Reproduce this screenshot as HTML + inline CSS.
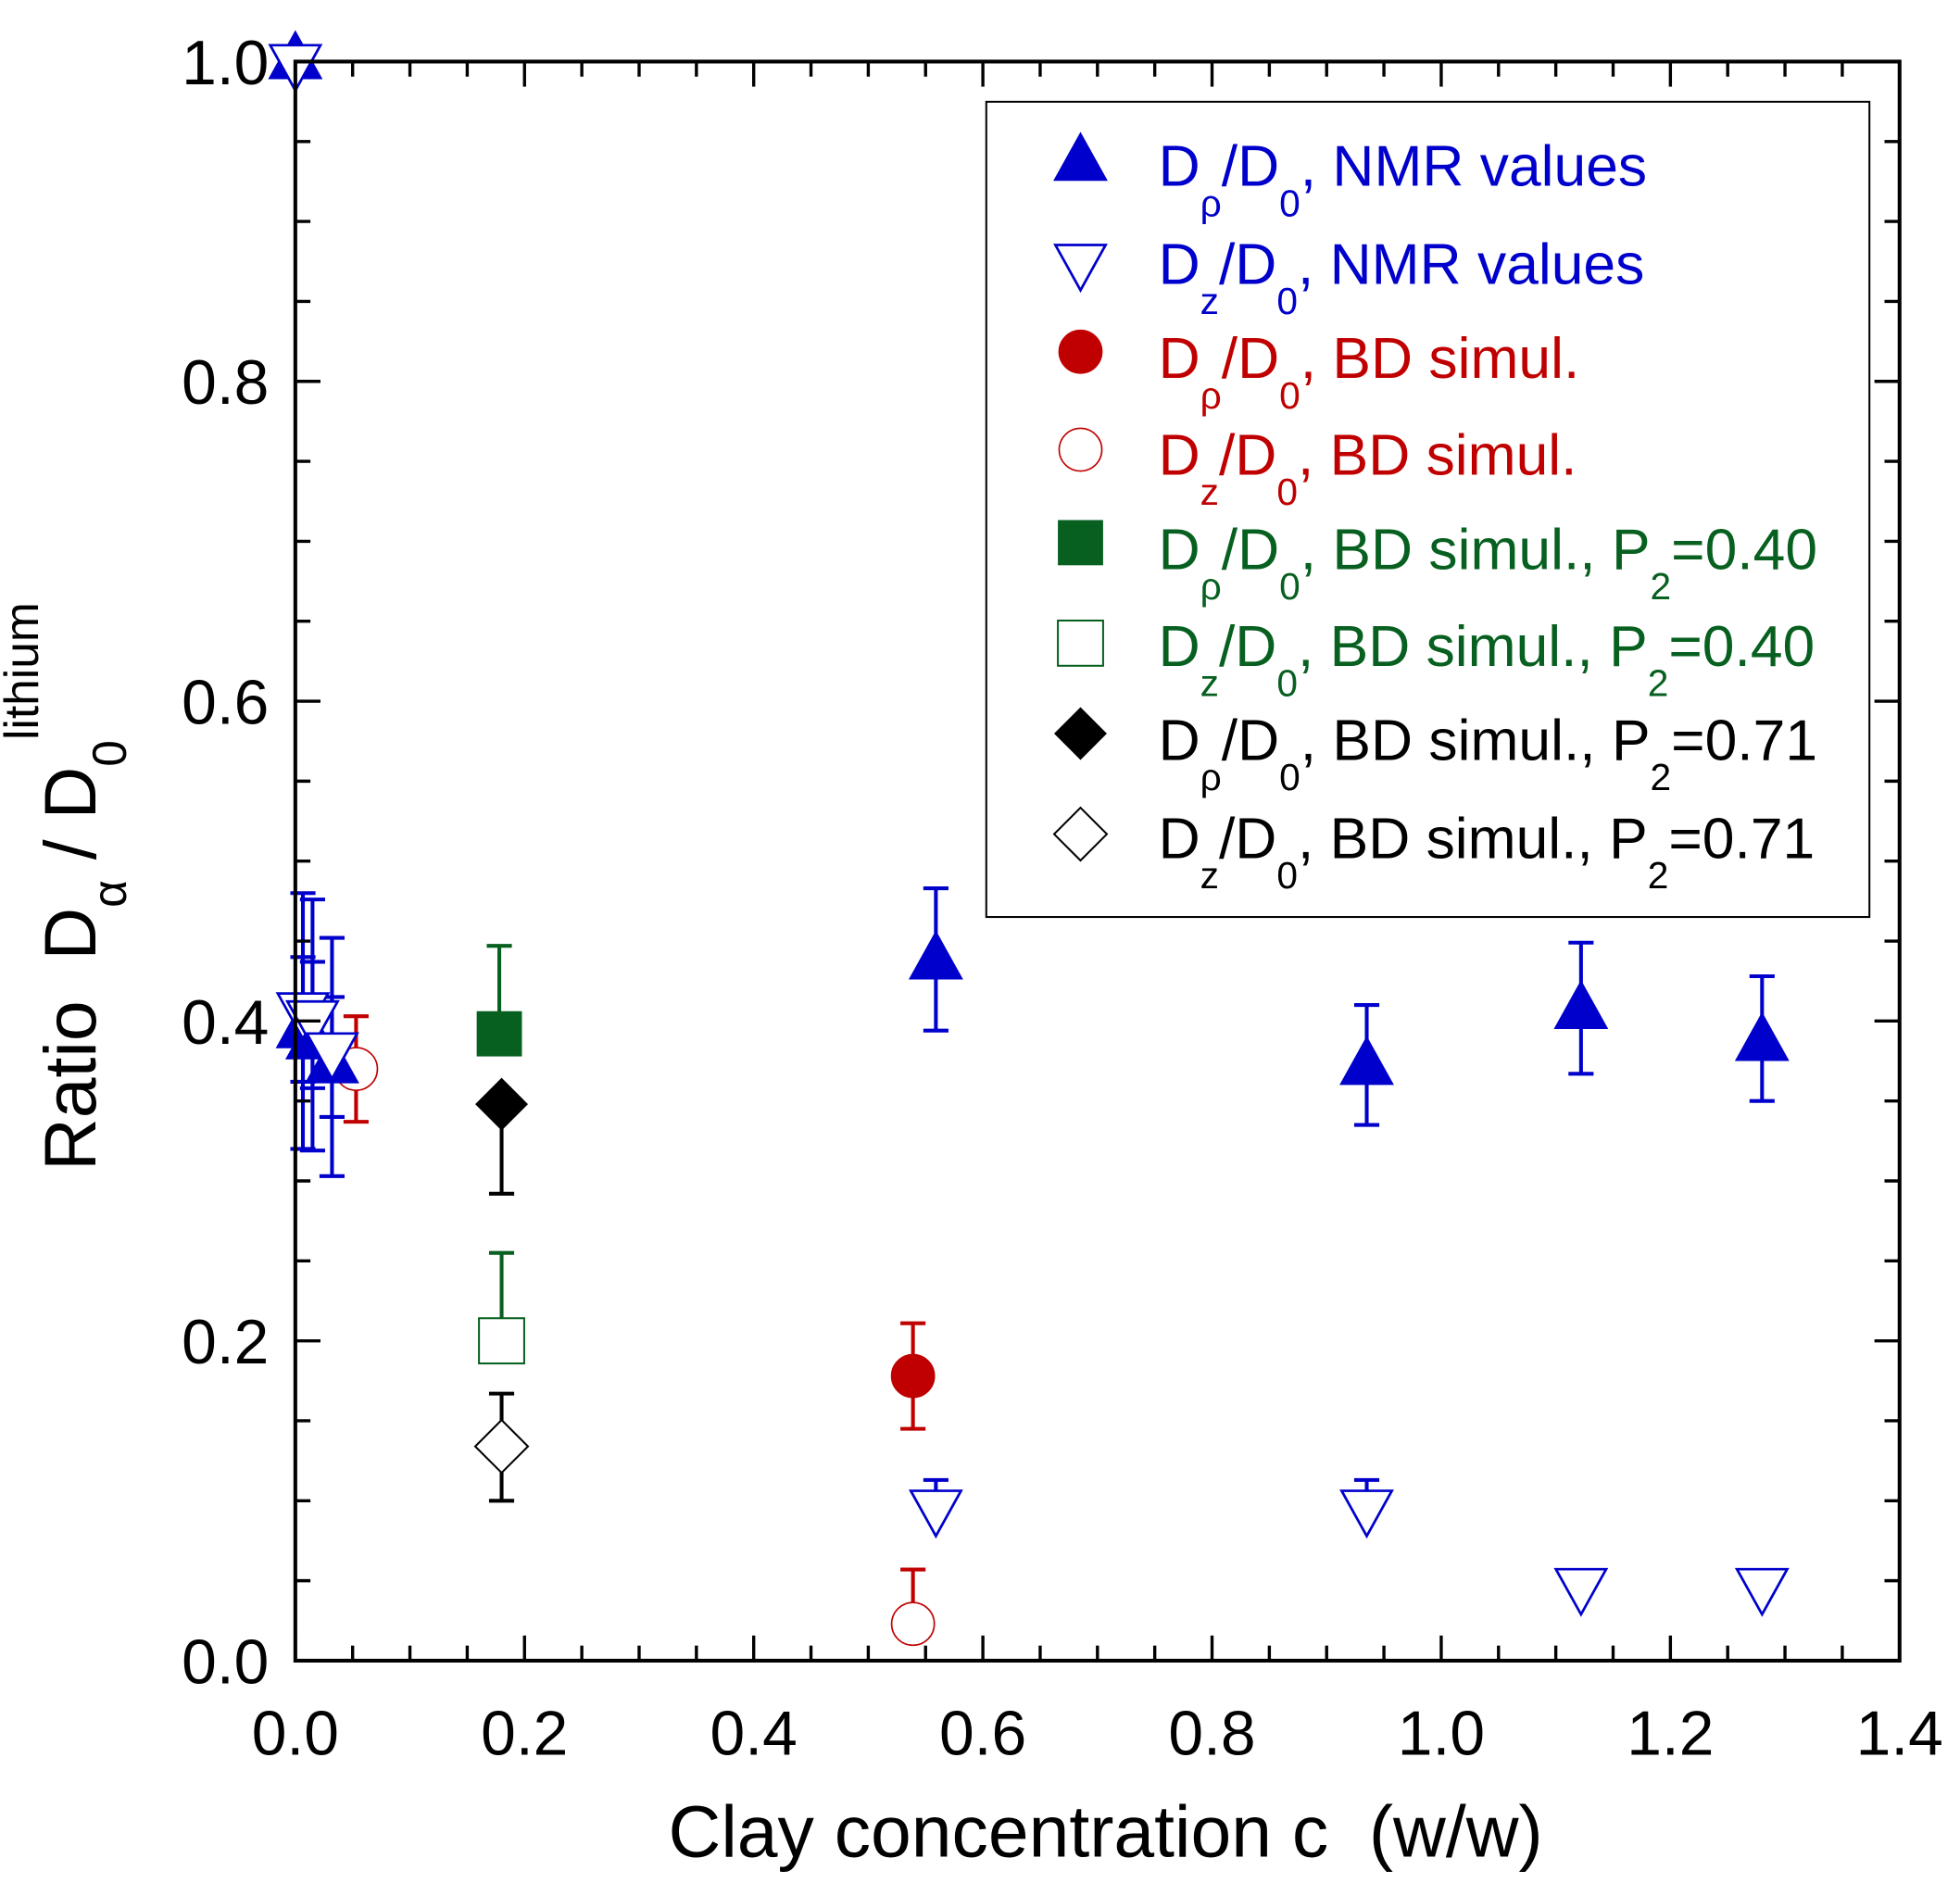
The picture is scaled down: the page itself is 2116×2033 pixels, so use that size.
<!DOCTYPE html>
<html><head><meta charset="utf-8">
<style>html,body{margin:0;padding:0;background:#fff}svg{display:block}text{font-family:"Liberation Sans",Arial,sans-serif;white-space:pre}</style>
</head><body>
<svg id="chart" width="2116" height="2033" viewBox="0 0 1560 1499" xmlns="http://www.w3.org/2000/svg">
<rect x="0" y="0" width="1560" height="1499" fill="#fff"/>
<g id="marks"></g>
<g id="axes"></g>
<g>
<rect x="785" y="81" width="703" height="649" fill="#fff" stroke="#000" stroke-width="1.5"/>
<g id="legmarks"></g>
<g font-size="46">
<text x="922" y="148" fill="#0000CC">D<tspan font-size="30" dy="24">ρ</tspan><tspan dy="-24">/D</tspan><tspan font-size="30" dy="24">0</tspan><tspan dy="-24">, NMR values</tspan></text>
<text x="922" y="226" fill="#0000CC">D<tspan font-size="30" dy="24">z</tspan><tspan dy="-24">/D</tspan><tspan font-size="30" dy="24">0</tspan><tspan dy="-24">, NMR values</tspan></text>
<text x="922" y="301" fill="#C00000">D<tspan font-size="30" dy="24">ρ</tspan><tspan dy="-24">/D</tspan><tspan font-size="30" dy="24">0</tspan><tspan dy="-24">, BD simul.</tspan></text>
<text x="922" y="378" fill="#C00000">D<tspan font-size="30" dy="24">z</tspan><tspan dy="-24">/D</tspan><tspan font-size="30" dy="24">0</tspan><tspan dy="-24">, BD simul.</tspan></text>
<text x="922" y="453" fill="#076020">D<tspan font-size="30" dy="24">ρ</tspan><tspan dy="-24">/D</tspan><tspan font-size="30" dy="24">0</tspan><tspan dy="-24">, BD simul., P</tspan><tspan font-size="30" dy="24">2</tspan><tspan dy="-24">=0.40</tspan></text>
<text x="922" y="530" fill="#076020">D<tspan font-size="30" dy="24">z</tspan><tspan dy="-24">/D</tspan><tspan font-size="30" dy="24">0</tspan><tspan dy="-24">, BD simul., P</tspan><tspan font-size="30" dy="24">2</tspan><tspan dy="-24">=0.40</tspan></text>
<text x="922" y="605" fill="#000">D<tspan font-size="30" dy="24">ρ</tspan><tspan dy="-24">/D</tspan><tspan font-size="30" dy="24">0</tspan><tspan dy="-24">, BD simul., P</tspan><tspan font-size="30" dy="24">2</tspan><tspan dy="-24">=0.71</tspan></text>
<text x="922" y="683" fill="#000">D<tspan font-size="30" dy="24">z</tspan><tspan dy="-24">/D</tspan><tspan font-size="30" dy="24">0</tspan><tspan dy="-24">, BD simul., P</tspan><tspan font-size="30" dy="24">2</tspan><tspan dy="-24">=0.71</tspan></text>
</g>
</g>
<text x="880" y="1478" font-size="58" text-anchor="middle">Clay concentration c  (w/w)</text>
<text transform="translate(76,932) rotate(-90)" font-size="58">Ratio  D<tspan font-size="38" dy="24">α</tspan><tspan dy="-24"> / D</tspan><tspan font-size="38" dy="24">0</tspan><tspan font-size="38" dy="-70">lithium</tspan></text>
</svg>
<script>
// data
const triUpX = [0.0, 0.0066, 0.015, 0.032, 0.559, 0.935, 1.122, 1.28];
const triUpY = [1.0, 0.394, 0.387, 0.372, 0.437, 0.371, 0.406, 0.386];
const triUpHi = [null, 0.48, 0.476, 0.452, 0.483, 0.41, 0.449, 0.428];
const triUpLo = [null, 0.32, 0.319, 0.303, 0.394, 0.335, 0.367, 0.35];
const triDnX = [0.0, 0.0066, 0.015, 0.032, 0.559, 0.935, 1.122, 1.28];
const triDnY = [1.0, 0.407, 0.402, 0.382, 0.096, 0.096, 0.047, 0.047];
const triDnHi = [null, 0.44, 0.437, 0.415, 0.113, 0.113, null, null];
const triDnLo = [null, 0.362, 0.358, 0.34, null, null, null, null];
const cirFX = [0.539], cirFY = [0.178], cirFHi = [0.211], cirFLo = [0.145];
const cirOX = [0.053, 0.539], cirOY = [0.37, 0.023], cirOHi = [0.403, 0.057], cirOLo = [0.337, null];
const sqFX = [0.178], sqFY = [0.392], sqFHi = [0.447], sqFLo = [null];
const sqOX = [0.18], sqOY = [0.2], sqOHi = [0.255], sqOLo = [null];
const diaFX = [0.18], diaFY = [0.348], diaFHi = [null], diaFLo = [0.292];
const diaOX = [0.18], diaOY = [0.134], diaOHi = [0.167], diaOLo = [0.10];
const xTicks = [0, 0.2, 0.4, 0.6, 0.8, 1.0, 1.2, 1.4];
const xTickLabels = ["0.0","0.2","0.4","0.6","0.8","1.0","1.2","1.4"];
const yTicks = [0, 0.2, 0.4, 0.6, 0.8, 1.0];
const yTickLabels = ["0.0","0.2","0.4","0.6","0.8","1.0"];

const L=235,R=1512,T=49,B=1322;
const sx=v=>L+(R-L)*v/1.4, sy=v=>B-(B-T)*v;
const NS="http://www.w3.org/2000/svg";
function mk(tag,attrs,parent){const e=document.createElementNS(NS,tag);for(const k in attrs)e.setAttribute(k,attrs[k]);parent.appendChild(e);return e;}
const marks=document.getElementById('marks'), axes=document.getElementById('axes'), leg=document.getElementById('legmarks');

function marker(type,cx,cy,color,filled,parent){
  let e;const fill=filled?color:'#fff';
  if(type==='up'){e=mk('polygon',{points:`${cx-20},${cy+13} ${cx+20},${cy+13} ${cx},${cy-23}`,fill,stroke:color,'stroke-width':2},parent);}
  else if(type==='dn'){e=mk('polygon',{points:`${cx-20},${cy-13} ${cx+20},${cy-13} ${cx},${cy+23}`,fill,stroke:color,'stroke-width':2},parent);}
  else if(type==='cir'){e=mk('circle',{cx,cy,r:17,fill,stroke:color,'stroke-width':1.2},parent);}
  else if(type==='sq'){e=mk('rect',{x:cx-18,y:cy-18,width:36,height:36,fill,stroke:color,'stroke-width':filled?0:1.5},parent);}
  else {e=mk('polygon',{points:`${cx},${cy-21} ${cx+21},${cy} ${cx},${cy+21} ${cx-21},${cy}`,fill,stroke:color,'stroke-width':filled?0:1.5},parent);}
  return e;
}
function series(name,type,X,Y,HI,LO,color,filled){
  const g=mk('g',{},marks);
  
  
  for(let i=0;i<X.length;i++){
    const cx=sx(X[i]),cy=sy(Y[i]);
    [HI[i],LO[i]].forEach(v=>{if(v==null)return;const y=sy(v);
      const l=mk('line',{x1:cx,y1:cy,x2:cx,y2:y,stroke:color,'stroke-width':3},g);
      
      
      mk('line',{x1:cx-10,y1:y,x2:cx+10,y2:y,stroke:color,'stroke-width':3},g);});
  }
  for(let i=0;i<X.length;i++){
    const m=marker(type,sx(X[i]),sy(Y[i]),color,filled,g);
    
    
  }
}
series('dz-bd-p071','dia',diaOX,diaOY,diaOHi,diaOLo,'#000',false);
series('dz-bd-p040','sq',sqOX,sqOY,sqOHi,sqOLo,'#076020',false);
series('dp-bd-p071','dia',diaFX,diaFY,diaFHi,diaFLo,'#000',true);
series('dp-bd-p040','sq',sqFX,sqFY,sqFHi,sqFLo,'#076020',true);
series('dz-bd','cir',cirOX,cirOY,cirOHi,cirOLo,'#C00000',false);
series('dp-bd','cir',cirFX,cirFY,cirFHi,cirFLo,'#C00000',true);
series('dp-nmr','up',triUpX,triUpY,triUpHi,triUpLo,'#0000CC',true);
series('dz-nmr','dn',triDnX,triDnY,triDnHi,triDnLo,'#0000CC',false);

// legend markers
const lm=[['up','#0000CC',true,130],['dn','#0000CC',false,208],['cir','#C00000',true,280],['cir','#C00000',false,358],['sq','#076020',true,432],['sq','#076020',false,512],['dia','#000',true,584],['dia','#000',false,664]];
lm.forEach(a=>{const m=marker(a[0],860,a[3],a[1],a[2],leg);
  
  });

// axes
const frame=mk('rect',{x:L,y:T,width:R-L,height:B-T,fill:'none',stroke:'#000','stroke-width':3},axes);


for(let v=0;v<=1.4001;v+=0.05){const x=sx(v);const major=Math.abs(v/0.2-Math.round(v/0.2))<1e-6;const len=major?20:12;
  mk('line',{x1:x,y1:B,x2:x,y2:B-len,stroke:'#000','stroke-width':2.5},axes);
  mk('line',{x1:x,y1:T,x2:x,y2:T+len,stroke:'#000','stroke-width':2.5},axes);}
for(let v=0;v<=1.0001;v+=0.05){const y=sy(v);const major=Math.abs(v/0.2-Math.round(v/0.2))<1e-6;const len=major?20:12;
  mk('line',{x1:L,y1:y,x2:L+len,y2:y,stroke:'#000','stroke-width':2.5},axes);
  mk('line',{x1:R,y1:y,x2:R-len,y2:y,stroke:'#000','stroke-width':2.5},axes);}
xTicks.forEach((v,i)=>{const t=mk('text',{x:sx(v),y:1397,'font-size':50,'text-anchor':'middle'},axes);t.textContent=xTickLabels[i];
  
  });
yTicks.forEach((v,i)=>{const t=mk('text',{x:214,y:sy(v)+18,'font-size':50,'text-anchor':'end'},axes);t.textContent=yTickLabels[i];
  
  });
</script>
</body></html>
